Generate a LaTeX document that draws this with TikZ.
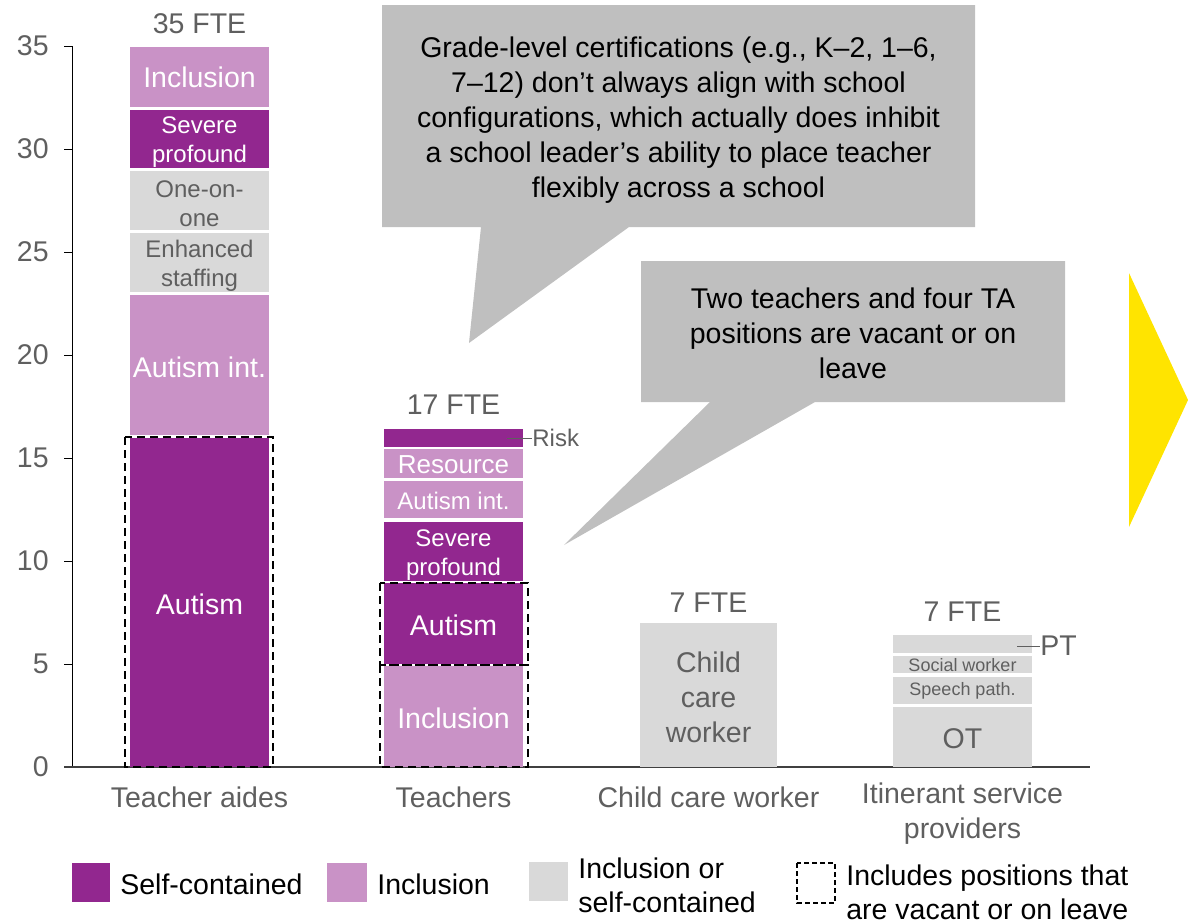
\documentclass[tikz,border=0pt]{standalone}
\usepackage{fontspec}
\setmainfont{Liberation Sans}
\definecolor{myselfpurple}{RGB}{146,39,143}
\definecolor{myinclpurple}{RGB}{201,146,198}
\definecolor{mylightgray}{RGB}{217,217,217}
\definecolor{mycallgray}{RGB}{191,191,191}
\definecolor{mytextgray}{RGB}{95,95,95}
\definecolor{myyellow}{RGB}{255,228,0}
\newcommand{\lblfont}{\fontsize{28.5}{35}\selectfont}
\newcommand{\smlfont}{\fontsize{24}{29}\selectfont}
\newcommand{\tnyfont}{\fontsize{18}{22}\selectfont}
\tikzset{every picture/.style={line width=0.75pt}}
\tikzset{
  whitelbl/.style={inner sep=0pt, align=center, text=white, font=\lblfont},
  graylbl/.style={inner sep=0pt, align=center, text=mytextgray, font=\lblfont},
  vacant/.style={draw=black, line width=2.6pt, dash pattern=on 8pt off 5pt},
}

\begin{document}
\begin{tikzpicture}[x=1pt,y=1pt,yscale=-1]
\useasboundingbox (0,0) rectangle (1188,922);

%Axes
\draw [color=black] (72,46) -- (72,767) ;
\foreach \v in {5,10,...,35} {
  \draw [color=black] (64,{767-20.6*\v}) -- (72,{767-20.6*\v}) ;
}
\foreach \v in {0,5,...,35} {
  \node (tick\v) [anchor=east, inner sep=0pt, text=mytextgray, font=\lblfont] at (49,{767-20.6*\v}) {\v};
}
\draw [color={rgb, 255:red, 64; green, 64; blue, 64}, line width=1.2pt] (64,767) -- (1090,767) ;

%Teacher aides bar
\fill [myselfpurple] (130,438) rectangle (269,767) ;
\fill [myinclpurple] (130,295) rectangle (269,435) ;
\fill [mylightgray] (130,233) rectangle (269,292) ;
\fill [mylightgray] (130,171) rectangle (269,230) ;
\fill [myselfpurple] (130,110) rectangle (269,168) ;
\fill [myinclpurple] (130,47) rectangle (269,107) ;
\draw [vacant] (125,437) rectangle (273,767) ;

%Teachers bar
\fill [myinclpurple] (384,666) rectangle (523,767) ;
\fill [myselfpurple] (384,583) rectangle (523,664) ;
\fill [myselfpurple] (384,522) rectangle (523,581) ;
\fill [myinclpurple] (384,481) rectangle (523,518) ;
\fill [myinclpurple] (384,449) rectangle (523,478) ;
\fill [myselfpurple] (384,429) rectangle (523,447) ;
\draw [vacant] (380,583) rectangle (528,665) ;
\draw [vacant] (380,665) rectangle (528,767) ;

%Child care worker bar
\fill [mylightgray] (640,623) rectangle (777,767) ;

%Itinerant service providers bar
\fill [mylightgray] (893,707) rectangle (1032,767) ;
\fill [mylightgray] (893,677) rectangle (1032,704) ;
\fill [mylightgray] (893,656) rectangle (1032,673) ;
\fill [mylightgray] (893,635) rectangle (1032,653) ;

% Segment labels
\node (taIncl) [whitelbl] at (199.5,77) {Inclusion};
\node (taSev) [whitelbl, font=\smlfont] at (199.5,142) {Severe\\profound};
\node (taOne) [graylbl, font=\smlfont] at (199.5,203.5) {One-on-\\one};
\node (taEnh) [graylbl, font=\smlfont] at (199.5,266) {Enhanced\\staffing};
\node (taAutInt) [whitelbl] at (199.5,367) {Autism int.};
\node (taAut) [whitelbl] at (199.5,604) {Autism};

\node (tRes) [whitelbl, font=\fontsize{26}{30}\selectfont] at (453.5,465) {Resource};
\node (tAutInt) [whitelbl, font=\smlfont] at (453.5,501) {Autism int.};
\node (tSev) [whitelbl, font=\smlfont] at (453.5,555) {Severe\\profound};
\node (tAut) [whitelbl] at (453.5,625) {Autism};
\node (tIncl) [whitelbl] at (453.5,718) {Inclusion};

\node (cChild) [graylbl] at (708.5,697) {Child\\care\\worker};

\node (iOT) [graylbl] at (962.5,739) {OT};
\node (iSpeech) [graylbl, font=\tnyfont] at (962.5,691) {Speech path.};
\node (iSocial) [graylbl, font=\tnyfont] at (962.5,665) {Social worker};

% Leader labels
\node (risk) [anchor=west, inner sep=0pt, text=mytextgray, font=\smlfont] at (532,438) {Risk};
\coordinate (riskEnd) at (507,438);
\draw [color=mytextgray] (riskEnd) -- (risk.west) ;
\node (pt) [anchor=west, inner sep=0pt, text=mytextgray, font=\lblfont] at (1040,646) {PT};
\coordinate (ptEnd) at (1017,646);
\draw [color=mytextgray] (ptEnd) -- (pt.west) ;

% FTE totals
\node (fteTA) [graylbl] at (199.5,24) {35 FTE};
\node (fteT) [graylbl] at (453.5,405) {17 FTE};
\node (fteC) [graylbl] at (708.5,603) {7 FTE};
\node (fteI) [graylbl] at (962.5,612) {7 FTE};

% Category labels
\node (catTA) [graylbl] at (199.5,797) {Teacher aides};
\node (catT) [graylbl] at (453.5,797) {Teachers};
\node (catC) [graylbl] at (708.5,797) {Child care worker};
\node (catI) [graylbl] at (962.5,814) {Itinerant service\\providers};

%Shape: Callout 1
\fill [mycallgray] (382,5) -- (975,5) -- (975,227) -- (629,227) -- (469,343) -- (481,227) -- (382,227) -- cycle ;
\node (call1) [inner sep=0pt, align=center, font=\lblfont] at (678.5,120) {Grade-level certifications (e.g., K--2, 1--6,\\7--12) don’t always align with school\\configurations, which actually does inhibit\\a school leader’s ability to place teacher\\flexibly across a school};

%Shape: Callout 2
\fill [mycallgray] (641,261) -- (1065,261) -- (1065,402) -- (815,402) -- (564,545) -- (710,402) -- (641,402) -- cycle ;
\node (call2) [inner sep=0pt, align=center, font=\lblfont] at (853,333) {Two teachers and four TA\\positions are vacant or on\\leave};

%Shape: Yellow arrow
\fill [myyellow] (1129,273) -- (1188,400) -- (1129,527) -- cycle ;

% Legend
\fill [myselfpurple] (72,863) rectangle (110,902) ;
\node (legSelf) [anchor=west, inner sep=0pt, font=\lblfont] at (120,884) {Self-contained};
\fill [myinclpurple] (327,863) rectangle (367,902) ;
\node (legIncl) [anchor=west, inner sep=0pt, font=\lblfont] at (377,884) {Inclusion};
\fill [mylightgray] (529,862) rectangle (568,901) ;
\node (legBoth) [anchor=west, inner sep=0pt, align=left, font=\fontsize{28.5}{34}\selectfont] at (578,885) {Inclusion or\\self-contained};
\draw [black, line width=1.2pt, dash pattern=on 5pt off 3pt] (797,863) rectangle (835,903) ;
\node (legVac) [anchor=west, inner sep=0pt, align=left, font=\fontsize{28.5}{34}\selectfont] at (846,892) {Includes positions that\\are vacant or on leave};

\end{tikzpicture}
\end{document}
